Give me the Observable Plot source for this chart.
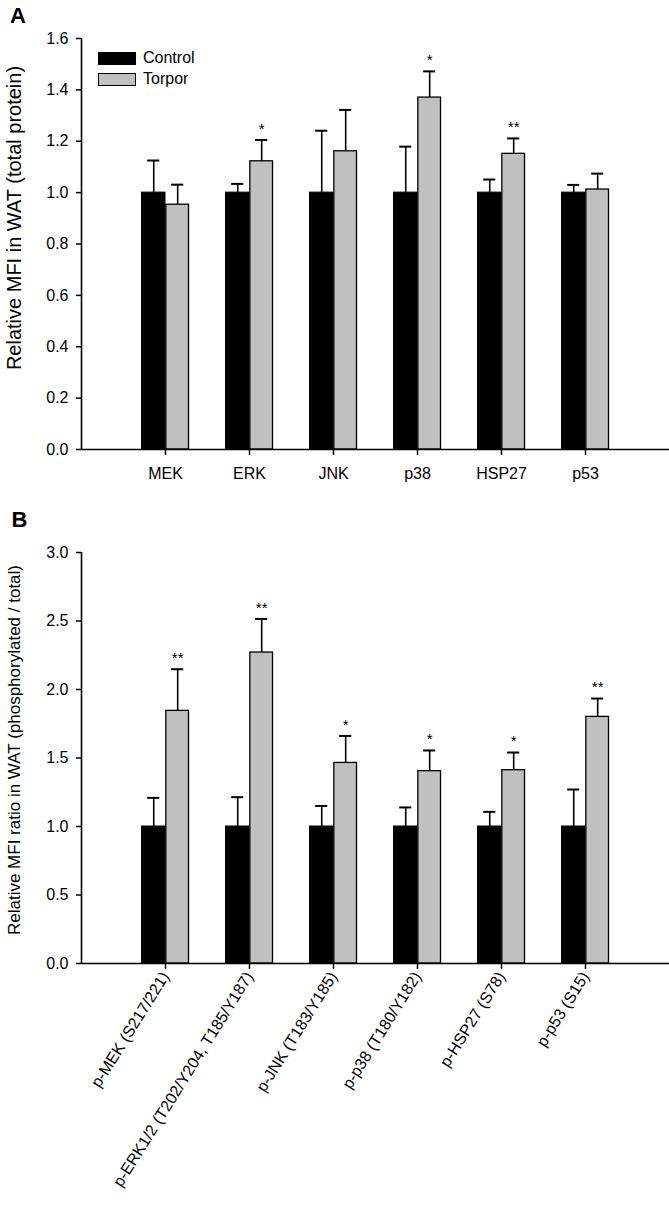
<!DOCTYPE html>
<html>
<head>
<meta charset="utf-8">
<script src="https://cdn.jsdelivr.net/npm/d3@7"></script>
<script src="https://cdn.jsdelivr.net/npm/@observablehq/plot@0.6"></script>
<style>
  body { margin: 0; background: #fff; font-family: "Liberation Sans", Arial, sans-serif; }
  #wrap { position: relative; width: 669px; height: 1208px; overflow: hidden; }
  #wrap svg { display: block; }
  #wrap svg text { font-family: "Liberation Sans", Arial, sans-serif; }
  .abs { position: absolute; white-space: nowrap; line-height: 1; color: #000; }
  .ylab { transform: translate(-50%, -50%) rotate(-90deg); }
  .panel { font-weight: bold; font-size: 22px; }
  .sw { position: absolute; box-sizing: border-box; border: 1.5px solid #000; }
</style>
</head>
<body>
<div id="wrap"></div>
<script>
// ---------- Panel A: total protein ----------
const catsA = ["MEK", "ERK", "JNK", "p38", "HSP27", "p53"];
const controlA = [1.0, 1.0, 1.0, 1.0, 1.0, 1.0];
const controlErrA = [0.125, 0.034, 0.241, 0.179, 0.051, 0.030];
const torporA = [0.953, 1.122, 1.161, 1.370, 1.151, 1.012];
const torporErrA = [0.078, 0.083, 0.161, 0.102, 0.060, 0.062];
const sigA = ["", "*", "", "*", "**", ""];
const yTicksA = [0, 0.2, 0.4, 0.6, 0.8, 1.0, 1.2, 1.4, 1.6];

// ---------- Panel B: phosphorylated / total ----------
const catsB = ["p-MEK (S217/221)", "p-ERK1/2 (T202/Y204, T185/Y187)", "p-JNK (T183/Y185)",
               "p-p38 (T180/Y182)", "p-HSP27 (S78)", "p-p53 (S15)"];
const controlB = [1.0, 1.0, 1.0, 1.0, 1.0, 1.0];
const controlErrB = [0.209, 0.214, 0.150, 0.139, 0.107, 0.270];
const torporB = [1.844, 2.270, 1.464, 1.404, 1.411, 1.800];
const torporErrB = [0.304, 0.245, 0.197, 0.151, 0.129, 0.134];
const sigB = ["**", "**", "*", "*", "*", "**"];
const yTicksB = [0, 0.5, 1.0, 1.5, 2.0, 2.5, 3.0];

const groups = ["Control", "Torpor"];
const fills = {Control: "#000000", Torpor: "#c0c0c0"};
const FONT = '"Liberation Sans", Arial, sans-serif';

function makePanel(o) {
  const rows = [];
  o.cats.forEach((c, i) => {
    const pos = i + 1;
    rows.push({group: "Control", pos, v: o.ctrl[i], e: o.ctrlErr[i], sig: "",
               x1: pos - 0.28, x2: pos});
    rows.push({group: "Torpor", pos, v: o.torp[i], e: o.torpErr[i], sig: o.sig[i],
               x1: pos + 0.01, x2: pos + 0.28});
  });
  rows.forEach(d => { d.cx = (d.x1 + d.x2) / 2; d.top = d.v + d.e; });
  const ctrlRows = rows.filter(d => d.group === "Control");
  const torpRows = rows.filter(d => d.group === "Torpor");
  return Plot.plot({
    width: 669,
    height: o.height,
    marginLeft: 81,
    marginRight: 0,
    marginTop: o.marginTop,
    marginBottom: o.marginBottom,
    style: {fontFamily: FONT, fontSize: "16px", color: "#000", background: "#fff", display: "block"},
    x: {type: "linear", domain: [0, 7]},
    y: {domain: [0, o.yMax]},
    marks: [
      // error bars (upper only)
      Plot.ruleX(rows, {x: "cx", y1: "v", y2: "top", stroke: "#000", strokeWidth: 1.6}),
      Plot.ruleY(rows, {y: "top", x1: d => d.cx - 0.072, x2: d => d.cx + 0.072, stroke: "#000", strokeWidth: 2}),
      // bars
      Plot.rect(ctrlRows, {x1: "x1", x2: "x2", y1: 0, y2: "v", fill: fills.Control, stroke: "#000", strokeWidth: 1}),
      Plot.rect(torpRows, {x1: "x1", x2: "x2", y1: 0, y2: "v", fill: fills.Torpor, stroke: "#000", strokeWidth: 1.3}),
      // significance stars
      Plot.text(torpRows.filter(d => d.sig), {x: "cx", y: "top", text: "sig", dy: -11, fontSize: 15, fontFamily: FONT, fill: "#000"}),
      // axes
      Plot.axisY({ticks: o.yTicks, tickFormat: d3.format(".1f"), tickSize: 5, tickPadding: 8, strokeWidth: 1.5,
                  fontSize: 16, fontFamily: FONT, label: null}),
      Plot.axisX({ticks: o.cats.map((c, i) => i + 1), tickFormat: d => o.cats[d - 1],
                  tickSize: 6, tickPadding: o.rotate ? 4 : 12, tickRotate: o.rotate || 0, strokeWidth: 1.5,
                  fontSize: 16, fontFamily: FONT, label: null}),
      Plot.ruleY([0], {stroke: "#000", strokeWidth: 1.6}),
      Plot.ruleX([0], {stroke: "#000", strokeWidth: 1.6})
    ]
  });
}

const wrap = document.getElementById("wrap");
wrap.appendChild(makePanel({
  cats: catsA, ctrl: controlA, ctrlErr: controlErrA, torp: torporA, torpErr: torporErrA, sig: sigA,
  yMax: 1.6, yTicks: yTicksA, height: 490, marginTop: 38, marginBottom: 41, rotate: 0
}));
wrap.appendChild(makePanel({
  cats: catsB, ctrl: controlB, ctrlErr: controlErrB, torp: torporB, torpErr: torporErrB, sig: sigB,
  yMax: 3.0, yTicks: yTicksB, height: 718, marginTop: 62, marginBottom: 245, rotate: -58
}));

function addText(txt, cls, css) {
  const el = document.createElement("div");
  el.className = "abs " + cls;
  el.textContent = txt;
  Object.assign(el.style, css);
  wrap.appendChild(el);
  return el;
}
// panel letters
addText("A", "panel", {left: "10px", top: "5px"});
addText("B", "panel", {left: "11.5px", top: "509px"});
// y-axis titles
addText("Relative MFI in WAT (total protein)", "ylab", {left: "13.5px", top: "218px", fontSize: "20px"});
addText("Relative MFI ratio in WAT (phosphorylated / total)", "ylab", {left: "13.5px", top: "750px", fontSize: "17px"});
// legend
groups.forEach((g, i) => {
  const sw = document.createElement("div");
  sw.className = "sw";
  Object.assign(sw.style, {left: "98px", top: (52 + i * 21) + "px", width: "38px", height: "13px", background: fills[g]});
  wrap.appendChild(sw);
  addText(g, "", {left: "143px", top: (50 + i * 20.6) + "px", fontSize: "16px"});
});
</script>
</body>
</html>
